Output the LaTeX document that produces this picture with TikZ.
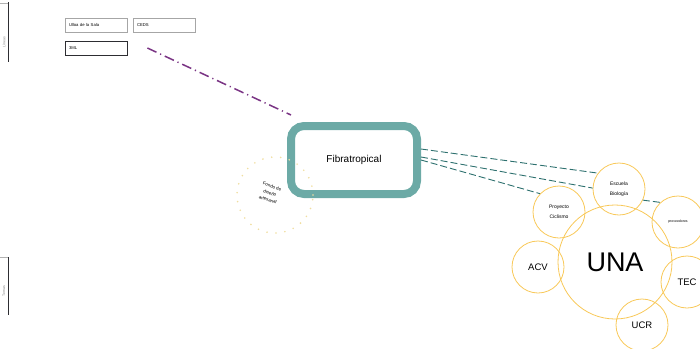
\documentclass[tikz,border=0pt]{standalone}
\usepackage{fontspec}
\setmainfont{Liberation Sans}
\usetikzlibrary{positioning}
\definecolor{sea}{RGB}{108,170,166}
\definecolor{deepsea}{RGB}{45,112,110}
\definecolor{plum}{RGB}{122,52,132}
\definecolor{sun}{RGB}{248,200,88}
\definecolor{cream}{RGB}{240,222,160}
\definecolor{slate}{RGB}{45,45,50}
\tikzset{
  hub/.style={draw=sea,line width=8pt,rounded corners=13pt,minimum width=126pt,
    minimum height=68pt,font=\fontsize{10}{12}\selectfont},
  bubble/.style={circle,draw=sun,line width=0.8pt,minimum size=#1,inner sep=0pt,
    align=center,font=\fontsize{5}{10}\selectfont},
  bubble/.default=52pt,
  tagbox/.style={draw=#1,line width=0.8pt,minimum width=62pt,minimum height=14pt,
    text width=54pt,align=left,inner sep=4pt,font=\fontsize{4.2}{5}\selectfont},
  tagbox/.default=gray!70,
  link/.style={deepsea,line width=0.9pt,dash pattern=on 7pt off 3pt},
  sidetag/.style={rotate=90,font=\fontsize{3.5}{4}\selectfont,text=gray},
}
\begin{document}
\begin{tikzpicture}[x=1pt,y=-1pt]
  \useasboundingbox (0,0) rectangle (700,348);
  % frames cut at the left border
  \draw[gray!60,line width=0.6pt] (-40,3) -- (8,3);
  \draw[slate,line width=0.9pt] (8,2) -- (8,62);
  \node[sidetag] (lineas) at (4,42) {Líneas};
  \draw[gray!60,line width=0.6pt] (-40,257) -- (8,257);
  \draw[slate,line width=0.9pt] (8,257) -- (8,315);
  \node[sidetag] (temas) at (4,291) {Temas};
  % labels top left
  \node[tagbox] (sala) at (96,25) {Ulloa de la Sala};
  \node[tagbox] (ceds) at (164,25) {CEDS};
  \node[tagbox=slate] (dml) at (96,48) {3ML};
  % main project
  \node[hub] (fibra) at (354,160) {Fibratropical};
  \draw[plum,line width=1.5pt,dash pattern=on 10pt off 4pt on 1.2pt off 4pt]
    ([xshift=20]dml.east) -- ([shift={(4,-7)}]fibra.north west);
  \node[circle,draw=cream,line width=1.8pt,line cap=round,dash pattern=on 0pt off 9pt,
    minimum size=76pt] (fondo) at (275,195) {};
  \node[rotate=-18,align=center,inner sep=0pt,font=\fontsize{4.5}{7}\selectfont] (fondotxt)
    at (270,193) {Fondo de\\diseño\\artesanal};
  % partners
  \node[bubble=114pt,font=\fontsize{27}{30}\selectfont] (una) at (615,262) {UNA};
  \node[bubble,font=\fontsize{9.5}{11}\selectfont] (acv) at (538,267) {ACV};
  \node[bubble,font=\fontsize{9.5}{11}\selectfont] (tec) at (687,282) {TEC};
  \node[bubble,font=\fontsize{9.5}{11}\selectfont] (ucr) at (642,325) {UCR};
  \node[bubble] (proyecto) at (559,212) {Proyecto\\Ciclismo};
  \node[bubble] (escuela) at (619,189) {Escuela\\Biología};
  \node[bubble,font=\fontsize{3.5}{4}\selectfont] (prov) at (678,222) {proveedores};
  \draw[link] ([yshift=11]fibra.east) -- (escuela.143);
  \draw[link] ([yshift=3]fibra.east) -- (escuela.178);
  \draw[link] (fibra.east) -- (proyecto.136);
  \draw[link] (escuela.-25) -- (prov.132);
\end{tikzpicture}
\end{document}
